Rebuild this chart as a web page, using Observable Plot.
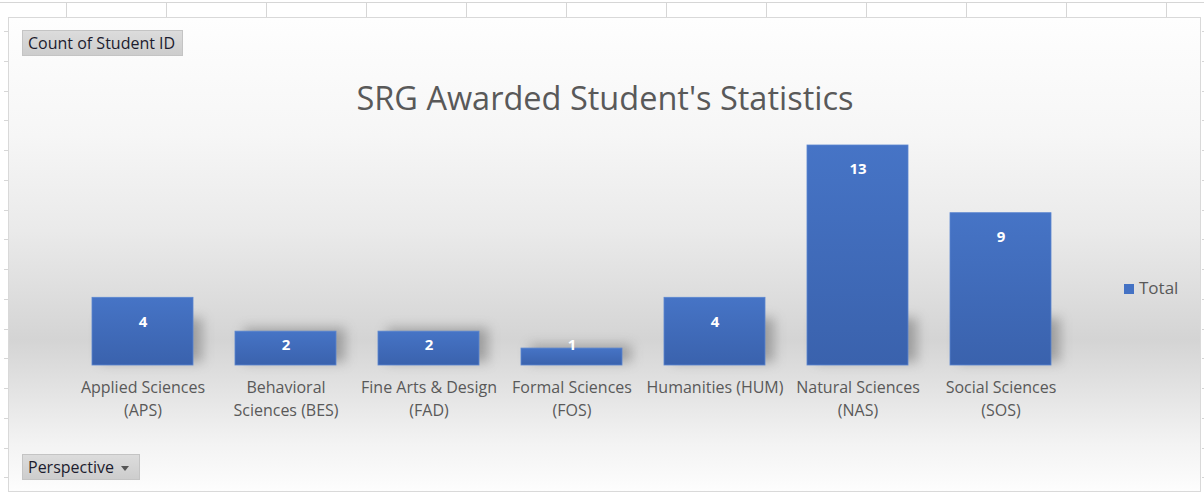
<!DOCTYPE html>
<html><head><meta charset="utf-8">
<script src="https://cdn.jsdelivr.net/npm/d3@7"></script>
<script src="https://cdn.jsdelivr.net/npm/@observablehq/plot@0.6"></script>
<style>
html,body{margin:0;padding:0;}
body{width:1204px;height:495px;overflow:hidden;background:#fff;font-family:"Open Sans",sans-serif;position:relative;}
.gl{position:absolute;background:#d6d6d6;}
#chartArea{position:absolute;left:8px;top:17px;width:1193px;height:475px;border:1px solid #d9d9d9;box-sizing:border-box;
  background:linear-gradient(to bottom,#fefefe 0%,#f6f6f6 25%,#eaeaea 45%,#dcdcdc 60%,#d4d4d4 68%,#e2e2e2 78%,#f3f3f3 90%,#fdfdfd 100%);}
#title{position:absolute;left:0;width:1210px;top:76px;text-align:center;font-size:32.5px;color:#595959;line-height:44px;white-space:nowrap;}
.btn{position:absolute;height:26px;box-sizing:border-box;background:linear-gradient(to bottom,#dcdcdc,#cdcdcd);border:1px solid #c4c4c4;
  color:#1c1c2e;font-size:16px;line-height:24px;padding-left:5px;white-space:nowrap;letter-spacing:0px;}
#countBtn{left:22px;top:30px;width:161px;}
#perspBtn{left:22px;top:454px;width:118px;}
#perspBtn .arr{display:inline-block;margin-left:7px;width:0;height:0;border-left:4px solid transparent;border-right:4px solid transparent;border-top:5px solid #555;vertical-align:middle;}
#legend{position:absolute;left:1124px;top:276px;font-size:17px;color:#595959;line-height:24px;white-space:nowrap;}
#legend .sw{display:inline-block;width:10px;height:10px;background:#4472c4;margin-right:5px;vertical-align:0px;}
#plot{position:absolute;left:0;top:0;}
</style></head><body>
<svg width="0" height="0" style="position:absolute"><defs>
<linearGradient id="barGrad" x1="0" y1="0" x2="0" y2="1"><stop offset="0" stop-color="#4674c6"/><stop offset="1" stop-color="#3a62ad"/></linearGradient>
</defs></svg>
<div id="sheet"></div>
<div id="chartArea"></div>
<div id="title">SRG Awarded Student's Statistics</div>
<div class="btn" id="countBtn">Count of Student ID</div>
<div class="btn" id="perspBtn">Perspective<span class="arr"></span></div>
<div id="legend"><span class="sw"></span>Total</div>
<div id="plot"></div>
<script>
// ---- data ----
const categories = ["Applied Sciences (APS)","Behavioral Sciences (BES)","Fine Arts & Design (FAD)","Formal Sciences (FOS)","Humanities (HUM)","Natural Sciences (NAS)","Social Sciences (SOS)"];
const tickLabels = ["Applied Sciences\n(APS)","Behavioral\nSciences (BES)","Fine Arts & Design\n(FAD)","Formal Sciences\n(FOS)","Humanities (HUM)","Natural Sciences\n(NAS)","Social Sciences\n(SOS)"];
const totals = [4,2,2,1,4,13,9];
const seriesName = "Total";

// ---- spreadsheet gridlines (decoration) ----
const sheet = document.getElementById("sheet");
function line(l,t,w,h){const d=document.createElement("div");d.className="gl";d.style.cssText=`left:${l}px;top:${t}px;width:${w}px;height:${h}px`;sheet.appendChild(d);}
line(0,2,1204,1);
for(let x=66;x<1204;x+=100) line(x,2,1,15);
for(let y=31;y<492;y+=29.75){line(4,Math.round(y),4,1);line(1202,Math.round(y),2,1);}

const data = categories.map((c,i)=>({category:c,label:tickLabels[i],total:totals[i]}));

const chart = Plot.plot({
  width:1204, height:495,
  marginLeft:68.75, marginRight:130.75, marginTop:145, marginBottom:130,
  style:{background:"transparent", fontFamily:"Open Sans", overflow:"visible"},
  x:{domain:categories, paddingInner:0.296, paddingOuter:0.148, axis:null},
  y:{domain:[0,13], axis:null},
  marks:[
    Plot.barY(data,{x:"category", y:d=>Math.min(d.total,2.6), fill:"#4a4a4a", fillOpacity:0.4, dx:9, dy:-3}),
    Plot.barY(data,{x:"category", y:"total", fill:"url(#barGrad)", stroke:"#5b86d0", strokeWidth:0.8}),
    Plot.text(data,{x:"category", y:d=>Math.max(d.total,2.6), dy:24, text:d=>String(d.total), fill:"#ffffff", fontWeight:"bold", fontSize:15}),
    Plot.text(data,{x:"category", text:"label", frameAnchor:"bottom", lineAnchor:"top", dy:11, fill:"#595959", fontSize:16, lineHeight:1.45})
  ]
});
document.getElementById("plot").appendChild(chart);
const bars = chart.querySelectorAll('g[aria-label="bar"]');
if (bars.length) bars[0].style.filter = "blur(6px)";
</script>
</body></html>
